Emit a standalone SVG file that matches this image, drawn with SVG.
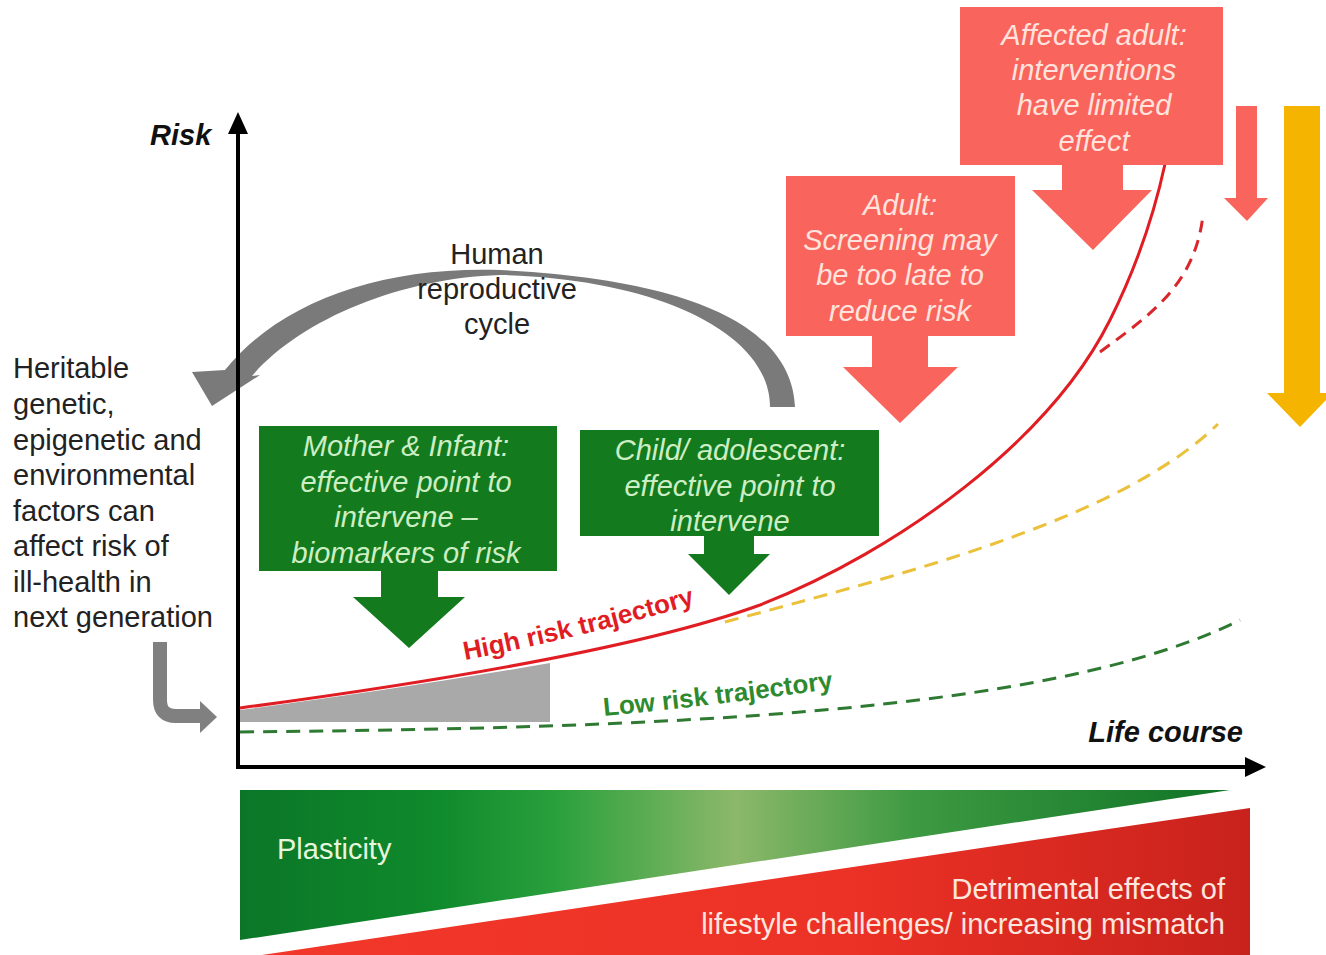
<svg xmlns="http://www.w3.org/2000/svg" width="1326" height="955" viewBox="0 0 1326 955">
<style>
.t{font-family:"Liberation Sans",Arial,sans-serif;font-size:29px}
.lbl{fill:#222}
.gb{fill:#137a1e}
.gt{fill:#cdeec4;font-style:italic;text-anchor:middle}
.rb{fill:#f9645c}
.rt{fill:#ffe3dc;font-style:italic;text-anchor:middle}
.ax{font-weight:bold;font-style:italic;fill:#111}
.traj{font-size:26px;font-weight:bold}
</style>
<defs>
<linearGradient id="gg" x1="240" y1="0" x2="1230" y2="0" gradientUnits="userSpaceOnUse">
<stop offset="0" stop-color="#0b7628"/>
<stop offset="0.2" stop-color="#0f8a2c"/>
<stop offset="0.32" stop-color="#2aa03c"/>
<stop offset="0.5" stop-color="#8cb86a"/>
<stop offset="0.68" stop-color="#3e9a42"/>
<stop offset="1" stop-color="#0f7426"/>
</linearGradient>
<linearGradient id="rg" x1="250" y1="0" x2="1250" y2="0" gradientUnits="userSpaceOnUse">
<stop offset="0" stop-color="#f2382a"/>
<stop offset="0.6" stop-color="#ec3126"/>
<stop offset="1" stop-color="#c8221c"/>
</linearGradient>
</defs>
<rect width="1326" height="955" fill="#ffffff"/>

<g id="gradient-band">
<polygon points="240,790 1230,790 240,940" fill="url(#gg)"/>
<polygon points="1250,808 1250,955 262,955" fill="url(#rg)"/>
<text class="t" x="277" y="859" fill="#e6f6dc">Plasticity</text>
<text class="t" x="1225" y="899" fill="#fde6de" text-anchor="end">Detrimental effects of</text>
<text class="t" x="1225" y="934" fill="#fde6de" text-anchor="end">lifestyle challenges/ increasing mismatch</text>
</g>

<g id="shaded-area">
<path d="M240 710 Q400 689 550 663 L550 722 L240 722 Z" fill="#a9a9a9"/>
</g>

<g id="connectors">
<path d="M240 732 C650 728 1050 715 1240 620" fill="none" stroke="#2f7a32" stroke-width="3" stroke-dasharray="14 9"/>
<path d="M725 622 C900 575 1120 520 1218 424" fill="none" stroke="#ebc03a" stroke-width="3" stroke-dasharray="14 9"/>
<path d="M1100 352 C1150 315 1195 285 1203 215" fill="none" stroke="#d8262b" stroke-width="3" stroke-dasharray="12 8"/>
<path d="M240 708 C450 680 650 645 760 605 C900 550 1050 440 1110 320 C1140 260 1155 210 1165 164" fill="none" stroke="#e11d24" stroke-width="3"/>
<path d="M160 642 L160 700 Q160 716 176 716 L202 716" fill="none" stroke="#808080" stroke-width="14"/>
<polygon points="200,701 217,717 200,733" fill="#808080"/>
<path d="M795 407 C792 330 700 280 500 270 C380 266 280 302 225 370 L192 372 L212 406 L260 375 L252 376 C300 320 400 278 500 275 C650 278 770 330 770 407 Z" fill="#7a7a7a"/>
</g>

<g id="axes">
<line x1="238" y1="769" x2="238" y2="130" stroke="#000" stroke-width="4"/>
<polygon points="238,112 228,134 248,134" fill="#000"/>
<line x1="236" y1="767" x2="1250" y2="767" stroke="#000" stroke-width="4"/>
<polygon points="1266,767 1245,757 1245,777" fill="#000"/>
<text class="t ax" x="150" y="145">Risk</text>
<text class="t ax" x="1243" y="742" text-anchor="end">Life course</text>
</g>

<g id="trajectory-labels">
<path id="hp" d="M465 660 Q580 638 702 602" fill="none"/>
<path id="lp" d="M604 716 Q720 705 838 688" fill="none"/>
<text class="t traj" fill="#e11d24"><textPath href="#hp">High risk trajectory</textPath></text>
<text class="t traj" fill="#2f8a2f"><textPath href="#lp">Low risk trajectory</textPath></text>
</g>

<g id="heritable-text">
<text class="t lbl" x="13" y="378">Heritable</text>
<text class="t lbl" x="13" y="414">genetic,</text>
<text class="t lbl" x="13" y="450">epigenetic and</text>
<text class="t lbl" x="13" y="485">environmental</text>
<text class="t lbl" x="13" y="521">factors can</text>
<text class="t lbl" x="13" y="556">affect risk of</text>
<text class="t lbl" x="13" y="592">ill-health in</text>
<text class="t lbl" x="13" y="627">next generation</text>
</g>

<g id="cycle-label">
<text class="t lbl" x="497" y="264" text-anchor="middle">Human</text>
<text class="t lbl" x="497" y="299" text-anchor="middle">reproductive</text>
<text class="t lbl" x="497" y="334" text-anchor="middle">cycle</text>
</g>

<g id="mother-infant">
<rect class="gb" x="259" y="426" width="298" height="145"/>
<polygon class="gb" points="381,570 438,570 438,597 465,597 409,648 353,597 381,597"/>
<text class="t gt" x="406" y="456">Mother &amp; Infant:</text>
<text class="t gt" x="406" y="492">effective point to</text>
<text class="t gt" x="406" y="527">intervene –</text>
<text class="t gt" x="406" y="563">biomarkers of risk</text>
</g>

<g id="child-adolescent">
<rect class="gb" x="580" y="430" width="299" height="106"/>
<polygon class="gb" points="704,535 754,535 754,554 770,554 729,595 688,554 704,554"/>
<text class="t gt" x="730" y="460">Child/ adolescent:</text>
<text class="t gt" x="730" y="496">effective point to</text>
<text class="t gt" x="730" y="531">intervene</text>
</g>

<g id="adult">
<rect class="rb" x="786" y="176" width="229" height="160"/>
<polygon class="rb" points="872,335 928,335 928,367 958,367 900,423 843,367 872,367"/>
<text class="t rt" x="900" y="215">Adult:</text>
<text class="t rt" x="900" y="250">Screening may</text>
<text class="t rt" x="900" y="285">be too late to</text>
<text class="t rt" x="900" y="321">reduce risk</text>
</g>

<g id="affected-adult">
<rect class="rb" x="960" y="7" width="263" height="158"/>
<polygon class="rb" points="1062,164 1123,164 1123,190 1152,190 1093,250 1032,190 1062,190"/>
<text class="t rt" x="1094" y="45">Affected adult:</text>
<text class="t rt" x="1094" y="80">interventions</text>
<text class="t rt" x="1094" y="115">have limited</text>
<text class="t rt" x="1094" y="151">effect</text>
</g>

<g id="side-arrows">
<polygon class="rb" points="1236,106 1257,106 1257,198 1268,198 1247,221 1224,198 1236,198"/>
<polygon fill="#f5b400" points="1284,106 1320,106 1320,393 1326,393 1326,400 1300,427 1267,393 1284,393"/>
</g>
</svg>
